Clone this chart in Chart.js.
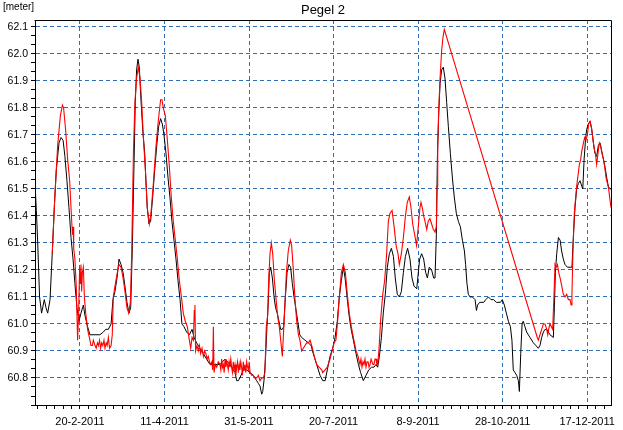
<!DOCTYPE html>
<html>
<head>
<meta charset="utf-8">
<script src="https://cdn.jsdelivr.net/npm/chart.js@4/dist/chart.umd.min.js"></script>
<style>
body{margin:0;background:#fff}
canvas{display:block}
</style>
</head>
<body>
<canvas id="pegelChart" width="623" height="430"></canvas>
<script>
// days counted from 1-1-2011 (day 0)
let xLabelDays=[50,100,150,200,250,300,350]
let xLabels=["20-2-2011","11-4-2011","31-5-2011","20-7-2011","8-9-2011","28-10-2011","17-12-2011"]
let yLabels=[60.8,60.9,61.0,61.1,61.2,61.3,61.4,61.5,61.6,61.7,61.8,61.9,62.0,62.1]

let blackDays=[23.5,24.2,25.0,26.1,27.3,28.9,29.9,30.9,32.3,33.6,34.8,36.0,37.6,38.8,40.0,41.1,42.3,43.5,44.7,45.9,47.0,48.2,49.4,50.6,52.0,53.0,54.5,55.9,58.9,61.8,63.8,65.2,66.8,68.4,69.5,70.7,71.9,73.1,74.3,75.5,76.6,77.8,79.0,80.0,81.0,81.9,82.7,83.5,84.3,85.1,85.9,87.1,88.3,89.0,89.8,90.8,91.8,93.0,94.2,95.4,96.5,97.7,98.7,99.7,100.9,102.1,103.2,104.4,105.6,106.8,108.0,109.2,110.3,111.5,113.1,114.7,116.3,117.5,119.0,121.0,123.0,124.9,126.9,128.9,132.8,135.8,138.7,140.7,141.7,142.7,143.7,144.6,146.6,148.6,150.6,152.5,154.5,155.5,156.5,157.5,158.1,159.0,159.8,160.6,161.4,162.0,162.8,163.8,164.8,165.7,166.7,167.7,168.7,169.7,170.5,171.3,172.5,173.6,174.6,175.6,176.6,177.6,178.8,180.0,181.1,183.1,185.1,186.7,188.0,190.0,192.0,193.6,195.0,196.3,197.9,199.5,200.9,202.2,203.4,204.6,205.8,206.8,207.8,209.0,210.1,211.7,213.3,214.7,216.0,217.6,219.2,220.8,222.5,223.9,225.1,226.1,227.1,228.3,229.4,230.6,231.8,233.0,234.2,235.4,236.5,237.7,238.9,240.1,241.3,242.5,243.8,245.2,246.4,247.6,249.2,250.9,252.1,253.3,254.5,255.5,256.6,258.0,259.2,260.0,260.8,261.4,262.2,263.0,263.9,264.9,265.9,266.9,267.9,269.1,270.3,271.4,272.6,273.8,275.0,276.2,277.4,278.1,278.9,279.7,280.7,282.1,283.7,284.5,285.2,286.4,288.8,290.0,291.6,293.1,294.7,296.3,298.7,299.8,301.0,302.2,303.4,304.6,305.5,306.3,307.3,308.3,309.3,309.9,310.7,311.5,312.2,313.2,314.2,316.2,318.2,319.7,321.1,322.1,323.1,324.1,325.1,326.1,328.0,330.0,330.6,331.2,332.0,333.0,334.0,334.9,335.9,336.9,338.3,339.9,341.0,341.8,342.8,343.8,344.8,345.8,346.8,347.4,348.2,349.0,349.7,350.7,351.7,352.7,353.7,354.7,355.6,356.6,357.6,358.6,359.6,360.6,361.6,362.5,363.5,364.1]
let blackLevels=[61.51,61.42,61.30,61.10,61.04,61.09,61.06,61.04,61.09,61.26,61.43,61.57,61.67,61.69,61.68,61.62,61.53,61.43,61.32,61.24,61.15,61.06,61.01,61.04,61.07,61.03,60.99,60.96,60.96,60.96,60.97,60.98,60.98,61.00,61.09,61.12,61.17,61.24,61.22,61.19,61.14,61.08,61.04,61.06,61.29,61.57,61.82,61.94,61.98,61.95,61.85,61.72,61.63,61.53,61.43,61.37,61.38,61.47,61.57,61.66,61.73,61.76,61.74,61.70,61.63,61.54,61.47,61.38,61.31,61.24,61.16,61.09,61.00,60.99,60.97,60.96,60.98,60.95,60.93,60.91,60.89,60.87,60.85,60.85,60.85,60.87,60.85,60.83,60.82,60.79,60.79,60.80,60.83,60.83,60.82,60.81,60.79,60.78,60.77,60.74,60.75,60.80,60.88,60.99,61.08,61.19,61.21,61.17,61.10,61.06,61.04,61.01,60.98,60.98,60.99,61.08,61.19,61.22,61.21,61.15,61.10,61.06,61.01,60.96,60.95,60.94,60.93,60.92,60.89,60.85,60.81,60.79,60.79,60.83,60.88,60.91,60.95,61.01,61.10,61.16,61.21,61.17,61.11,61.04,60.99,60.94,60.89,60.85,60.82,60.79,60.81,60.83,60.84,60.84,60.85,60.84,60.88,60.95,61.04,61.11,61.21,61.26,61.28,61.25,61.17,61.11,61.10,61.12,61.19,61.25,61.28,61.24,61.17,61.14,61.13,61.24,61.26,61.24,61.19,61.17,61.21,61.20,61.17,61.17,61.33,61.61,61.78,61.89,61.94,61.95,61.91,61.82,61.73,61.63,61.54,61.47,61.41,61.38,61.36,61.31,61.27,61.22,61.15,61.11,61.10,61.10,61.09,61.05,61.07,61.08,61.08,61.09,61.10,61.09,61.09,61.08,61.08,61.09,61.07,61.04,61.01,60.99,60.94,60.83,60.82,60.81,60.79,60.75,60.89,61.00,61.01,60.99,60.97,60.95,60.93,60.92,60.91,60.92,60.95,60.97,60.98,60.98,60.96,60.95,61.06,61.19,61.26,61.32,61.31,61.27,61.24,61.22,61.21,61.21,61.21,61.32,61.43,61.50,61.52,61.53,61.51,61.50,61.61,61.68,61.72,61.74,61.75,61.72,61.67,61.63,61.62,61.66,61.67,61.64,61.61,61.58,61.54,61.51,61.50,61.50]

let redDays=[33.6,35.2,36.8,38.4,39.6,40.3,41.5,42.7,43.9,45.1,45.6,46.0,46.3,47.0,47.8,48.6,49.2,49.8,50.2,50.6,51.0,51.4,52.0,52.6,53.4,54.5,55.9,56.5,57.3,57.9,58.9,59.6,60.3,60.9,61.6,62.2,62.8,63.5,64.2,64.8,65.5,66.1,66.8,67.5,68.4,69.1,69.7,70.7,72.1,73.1,74.3,75.5,76.6,77.8,78.8,79.8,80.6,81.6,82.5,83.5,84.5,85.5,86.5,87.5,88.7,89.8,91.0,92.0,93.4,95.0,96.3,97.7,98.5,99.3,100.5,101.7,102.9,104.0,105.2,106.4,107.6,108.8,110.0,111.1,112.3,113.5,114.7,115.5,116.3,117.1,117.6,118.0,118.4,119.2,120.0,120.7,121.4,122.2,123.0,123.7,124.5,125.2,125.9,126.6,127.3,128.0,128.5,128.9,129.3,130.1,130.9,131.8,132.8,133.3,133.8,134.3,134.8,135.3,135.8,136.3,136.8,137.2,137.7,138.2,138.7,139.2,139.7,140.2,140.7,141.2,141.7,142.2,142.7,143.2,143.7,144.2,144.6,145.1,145.6,146.1,146.6,147.1,147.6,148.1,148.6,149.1,149.6,150.1,150.6,151.5,152.5,153.5,154.5,155.5,156.5,157.5,158.5,159.4,160.2,161.0,161.6,162.4,163.2,164.0,165.0,166.0,166.9,167.9,168.9,169.7,170.5,171.3,172.1,173.2,174.4,175.2,176.2,177.2,178.2,179.2,180.1,181.1,182.1,183.1,184.1,185.1,186.1,187.5,188.6,190.0,191.4,193.0,193.6,195.0,196.3,197.9,199.1,200.3,201.4,202.4,203.4,204.6,205.8,207.0,208.1,209.3,210.5,211.7,213.3,214.5,215.6,216.2,216.8,217.4,218.0,218.6,219.2,219.8,220.4,221.0,221.6,222.2,222.7,223.3,223.9,224.5,225.1,225.6,226.1,226.9,227.9,229.1,230.2,231.4,232.4,233.4,234.6,235.8,237.0,238.1,238.9,240.1,241.3,242.5,243.6,244.8,245.8,246.8,248.0,249.1,250.1,251.1,251.7,252.5,253.3,254.1,255.1,256.0,257.0,258.0,259.0,260.0,260.8,261.2,261.6,262.2,263.0,263.9,264.7,265.5,320.5,321.1,322.1,323.1,324.1,325.1,326.1,326.7,327.2,328.0,328.8,329.6,330.4,331.0,331.6,332.4,333.2,334.0,335.0,335.9,336.9,337.9,338.9,339.9,340.5,341.0,341.6,342.4,343.2,343.8,344.8,345.4,346.2,346.8,347.8,348.5,349.3,350.1,350.9,351.7,352.5,353.3,354.1,354.9,355.6,356.4,357.2,358.0,358.8,359.6,360.4,361.2,362.0,362.7,363.5,364.1]
let redLevels=[61.26,61.48,61.66,61.77,61.81,61.80,61.72,61.61,61.53,61.38,61.33,61.36,61.28,61.24,61.14,60.94,61.04,61.21,61.15,61.22,61.12,61.19,61.21,61.10,61.04,60.98,60.94,60.92,60.92,60.94,60.92,60.91,60.93,60.92,60.94,60.91,60.93,60.92,60.94,60.91,60.93,60.92,60.95,60.91,60.92,60.96,61.10,61.14,61.19,61.22,61.21,61.17,61.12,61.06,61.04,61.08,61.26,61.63,61.82,61.91,61.95,61.91,61.82,61.69,61.57,61.43,61.37,61.41,61.52,61.66,61.75,61.83,61.83,61.80,61.77,61.68,61.58,61.47,61.38,61.31,61.24,61.16,61.10,61.04,61.01,60.99,60.94,60.91,60.95,60.94,61.05,61.07,60.90,60.92,60.90,60.92,60.89,60.91,60.88,60.90,60.89,60.87,60.88,60.86,60.85,60.86,60.83,60.99,60.82,60.85,60.84,60.86,60.85,60.83,60.87,60.84,60.85,60.82,60.87,60.84,60.86,60.85,60.83,60.86,60.84,60.87,60.84,60.82,60.86,60.83,60.85,60.81,60.84,60.86,60.82,60.85,60.83,60.86,60.84,60.81,60.86,60.83,60.85,60.82,60.86,60.84,60.83,60.86,60.82,60.81,60.81,60.80,60.80,60.81,60.79,60.80,60.80,60.82,60.99,61.03,61.16,61.26,61.30,61.26,61.16,61.09,61.03,60.99,60.93,60.88,60.98,61.08,61.19,61.27,61.31,61.29,61.20,61.09,61.01,60.96,60.94,60.90,60.91,60.92,60.93,60.93,60.94,60.91,60.88,60.85,60.84,60.83,60.82,60.83,60.84,60.87,60.90,60.93,60.94,61.01,61.10,61.19,61.22,61.19,61.11,61.04,60.99,60.95,60.90,60.88,60.85,60.87,60.84,60.86,60.85,60.87,60.84,60.86,60.86,60.84,60.85,60.87,60.87,60.85,60.85,60.87,60.87,60.85,60.85,60.91,61.02,61.11,61.16,61.26,61.38,61.41,61.42,61.36,61.29,61.26,61.22,61.26,61.32,61.40,61.45,61.47,61.43,61.37,61.33,61.29,61.36,61.43,61.45,61.43,61.40,61.38,61.35,61.38,61.39,61.37,61.35,61.34,61.36,61.51,61.66,61.79,61.91,62.01,62.06,62.09,60.95,60.94,60.96,60.98,61.00,61.00,60.98,60.96,60.98,61.00,60.99,60.98,61.11,61.22,61.21,61.22,61.19,61.17,61.14,61.11,61.10,61.11,61.09,61.09,61.07,61.11,61.27,61.41,61.47,61.51,61.56,61.59,61.61,61.64,61.67,61.69,61.68,61.70,61.74,61.75,61.73,61.69,61.65,61.63,61.59,61.63,61.67,61.66,61.63,61.61,61.58,61.54,61.52,61.50,61.46,61.43]

let gridBlue="#2f6fb8"
let fontFamily="'Liberation Sans', Arial, sans-serif"

// tick marks: every 5 days on x, every third of 0.1 m on y
let xTickDays=[]
for(let d=25;d<=364;d+=5) xTickDays.push(d)
let yTickValues=[]
for(let i=-3;i<=39;i++) yTickValues.push(+(60.8+i*0.1/3).toFixed(4))

function isYLabel(v){
return yLabels.some(l=>Math.abs(l-v)<1e-6)
}

let framePlugin={
id:"frame",
afterDraw(chart){
let ctx=chart.ctx
let a=chart.chartArea
ctx.save()
ctx.strokeStyle="#000"
ctx.lineWidth=1
ctx.beginPath()
ctx.moveTo(Math.round(a.left)-0.5,Math.round(a.top)+0.5)
ctx.lineTo(Math.round(a.right)+0.5,Math.round(a.top)+0.5)
ctx.lineTo(Math.round(a.right)+0.5,Math.round(a.bottom))
ctx.stroke()
ctx.fillStyle="#000"
ctx.font="13px "+fontFamily
ctx.textAlign="center"
ctx.textBaseline="middle"
ctx.fillText("Pegel 2",(a.left+a.right)/2,10)
ctx.font="10px "+fontFamily
ctx.textAlign="left"
ctx.fillText("[meter]",3,7)
ctx.restore()
}
}

new Chart(document.getElementById("pegelChart"),{
type:"line",
data:{
datasets:[{
label:"red",
data:redDays.map((d,i)=>({x:d,y:redLevels[i]})),
borderColor:"#ff0000",
borderWidth:1.1,
pointRadius:0,
tension:0
},{
label:"black",
data:blackDays.map((d,i)=>({x:d,y:blackLevels[i]})),
borderColor:"#000000",
borderWidth:1,
pointRadius:0,
tension:0
}]
},
options:{
responsive:false,
animation:false,
layout:{padding:{top:20,right:12,left:0,bottom:0}},
plugins:{legend:{display:false},title:{display:false},tooltip:{enabled:false}},
scales:{
x:{
type:"linear",
min:23.4,
max:364.1,
afterBuildTicks:s=>{s.ticks=xTickDays.map(v=>({value:v}))},
afterFit:s=>{s.height=25},
ticks:{
autoSkip:false,
maxRotation:0,
padding:6,
color:"#000",
font:{family:fontFamily,size:11},
callback:v=>{
let i=xLabelDays.indexOf(v)
return i>=0?xLabels[i]:""
}
},
grid:{
color:c=>(c.tick&&xLabelDays.includes(c.tick.value))?gridBlue:"rgba(0,0,0,0)",
tickColor:"#000",
tickLength:4,
lineWidth:1
},
border:{color:"#000",width:1,dash:[4,3]}
},
y:{
min:60.70,
max:62.125,
afterBuildTicks:s=>{s.ticks=yTickValues.map(v=>({value:v}))},
afterFit:s=>{s.width=35},
ticks:{
autoSkip:false,
padding:3,
color:"#000",
font:{family:fontFamily,size:10.5},
callback:v=>isYLabel(v)?v.toFixed(1):""
},
grid:{
color:c=>(c.tick&&isYLabel(c.tick.value))?gridBlue:"rgba(0,0,0,0)",
tickColor:"#000",
tickLength:4,
lineWidth:1
},
border:{color:"#000",width:1,dash:[4,3]}
}
}
},
plugins:[framePlugin]
})
</script>
</body>
</html>
